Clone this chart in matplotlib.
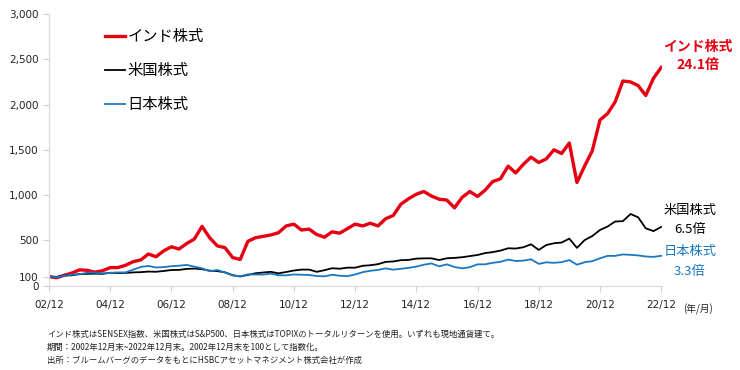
import numpy as np
import pandas as pd
import matplotlib
matplotlib.use("Agg")
import matplotlib.pyplot as plt

plt.rcParams['font.family'] = ['Noto Sans CJK JP', 'DejaVu Sans']

# quarterly index levels, Dec 2002 = 100
dates = pd.date_range('2002-12-31', periods=81, freq='QE')

india = [100, 88, 115, 140, 175, 170, 150, 165, 200, 200, 225, 265, 285, 350, 320, 385,
         430, 405, 465, 515, 655, 530, 440, 420, 310, 290, 490, 530, 545, 560, 585, 660,
         680, 615, 625, 565, 535, 595, 580, 630, 680, 660, 690, 660, 740, 775, 900, 960,
         1010, 1040, 990, 955, 945, 860, 975, 1040, 985, 1055, 1150, 1180, 1320, 1245, 1340, 1420,
         1360, 1400, 1500, 1460, 1575, 1140, 1320, 1490, 1830, 1900, 2030, 2260, 2250, 2210, 2100, 2290,
         2410]

usa = [100, 96.8, 111.8, 114.7, 128.7, 130.8, 133.2, 130.6, 142.7, 139.6, 141.5, 146.7, 149.7, 156.0, 153.8, 162.5,
       173.3, 174.4, 185.4, 189.2, 182.9, 165.7, 161.3, 147.8, 115.2, 102.4, 118.7, 137.3, 145.7, 153.5, 136.0, 151.4,
       167.6, 177.7, 177.9, 153.2, 171.2, 192.7, 187.5, 199.4, 198.6, 219.6, 226.0, 237.8, 262.9, 267.7, 281.6, 284.9,
       298.9, 301.8, 302.7, 283.3, 303.0, 306.9, 314.4, 326.8, 339.2, 359.9, 371.0, 387.4, 413.3, 410.3, 424.5, 457.1,
       395.2, 449.1, 468.5, 476.4, 519.6, 417.5, 503.2, 548.2, 615.2, 653.0, 708.7, 712.9, 791.8, 755.4, 633.8, 602.8,
       648.4]

japan = [100, 93.9, 108.2, 122.6, 126.2, 143.3, 145.2, 135.2, 141.7, 146.4, 146.5, 176.6, 207.3, 218.2, 201.2, 205.3,
         215.3, 220.6, 229.6, 210.1, 192.7, 159.2, 174.0, 144.1, 114.4, 103.5, 125.0, 122.9, 123.2, 133.5, 115.3, 114.2,
         124.4, 120.9, 118.6, 106.9, 102.8, 121.1, 109.7, 105.5, 123.7, 149.5, 164.6, 174.2, 190.9, 177.1, 186.8, 197.2,
         210.3, 231.7, 245.9, 213.9, 235.7, 206.2, 191.6, 204.4, 235.8, 236.0, 252.7, 263.8, 287.7, 273.0, 276.6, 291.8,
         241.1, 258.0, 252.7, 259.9, 283.1, 231.9, 258.8, 271.2, 302.6, 329.2, 329.0, 345.3, 340.5, 334.3, 322.8, 318.3,
         329.8]

names = ['インド株式', '米国株式', '日本株式']
end_labels = ['24.1倍', '6.5倍', '3.3倍']
colors = ['#e60012', '#000000', '#1a78c2']
widths = [2.4, 1.3, 1.3]

tick_years = list(range(2002, 2023, 2))
tick_labels = ['%02d/12' % (y % 100) for y in tick_years]
y_ticks = [0, 100, 500, 1000, 1500, 2000, 2500, 3000]

fig = plt.figure(figsize=(7.4, 3.7), dpi=100)
ax = fig.add_axes([49/740, 1-285.7/370, (662-49)/740, (285.7-14)/370])

series = [india, usa, japan]
for s, n, c, w in zip(series, names, colors, widths):
    ax.plot(dates, s, color=c, lw=w, label=n, solid_joinstyle='round')

ax.set_ylim(0, 3000)
ax.set_xlim(dates[0], dates[-1] + pd.Timedelta(days=10))
ax.set_yticks(y_ticks)
ax.set_yticklabels(['{:,}'.format(v) for v in y_ticks], family='DejaVu Sans')
ax.set_xticks([pd.Timestamp('%d-12-31' % y) for y in tick_years])
ax.set_xticklabels(tick_labels, family='DejaVu Sans')
ax.tick_params(axis='both', labelsize=7.5, color='#d0d0d0', length=4, labelcolor='#222222')
ax.tick_params(axis='x', pad=6)
for sp in ['top', 'right']:
    ax.spines[sp].set_visible(False)
for sp in ['left', 'bottom']:
    ax.spines[sp].set_color('#d9d9d9')

ax.legend(loc='upper left', bbox_to_anchor=(0.091, 0.948), frameon=False,
          borderaxespad=0, borderpad=0,
          fontsize=11, handlelength=1.35, handletextpad=0.15, labelspacing=1.12)

# labels at the right end
fig.text(698/740, 1-47/370, names[0], color=colors[0], fontsize=10, fontweight='bold', ha='center', va='center')
fig.text(698/740, 1-65/370, end_labels[0], color=colors[0], fontsize=10, fontweight='bold', ha='center', va='center')
fig.text(690/740, 1-211/370, names[1], color=colors[1], fontsize=9.5, ha='center', va='center')
fig.text(690/740, 1-230/370, end_labels[1], color=colors[1], fontsize=9.5, ha='center', va='center')
fig.text(690/740, 1-252/370, names[2], color=colors[2], fontsize=9.5, ha='center', va='center')
fig.text(690/740, 1-271/370, end_labels[2], color=colors[2], fontsize=9.5, ha='center', va='center')

fig.text(683/740, 1-309/370, '(年/月)', fontsize=7, ha='left', va='center', color='#222222')

notes = ['インド株式はSENSEX指数、米国株式はS&P500、日本株式はTOPIXのトータルリターンを使用。いずれも現地通貨建て。',
         '期間：2002年12月末~2022年12月末。2002年12月末を100として指数化。',
         '出所：ブルームバーグのデータをもとにHSBCアセットマネジメント株式会社が作成']
for i, t in enumerate(notes):
    fig.text(47/740, 1-(334 + 13*i)/370, t, fontsize=6, ha='left', va='center', color='#222222')

fig.savefig('out.png', dpi=100)
